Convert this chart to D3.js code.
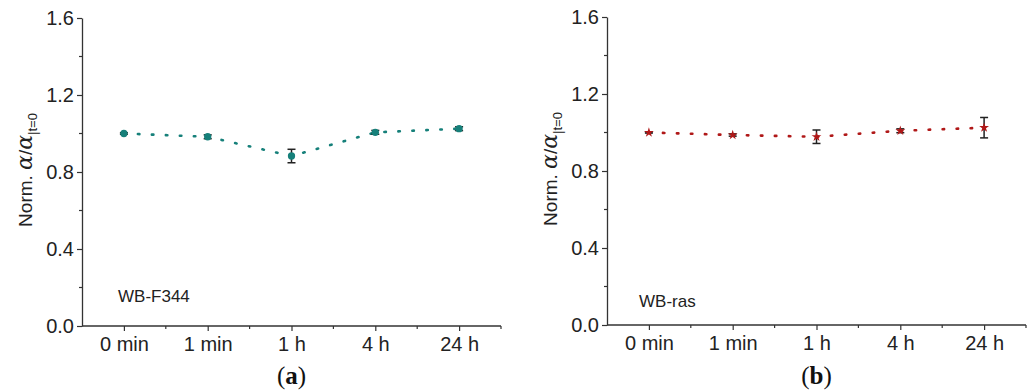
<!DOCTYPE html>
<html>
<head>
<meta charset="utf-8">
<script src="https://cdn.jsdelivr.net/npm/d3@7"></script>
<style>
  body { margin: 0; background: #fff; }
  text { font-family: "Liberation Sans", Arial, sans-serif; }
</style>
</head>
<body>
<div id="chart-area"></div>
<script>
// Data
var timeLabels = ["0 min", "1 min", "1 h", "4 h", "24 h"];
var yTicks = [0.0, 0.4, 0.8, 1.2, 1.6];
var yMinorTicks = [0.2, 0.6, 1.0, 1.4];

var f344Values = [1.000, 0.983, 0.883, 1.006, 1.025];
var f344Errors = [0.004, 0.010, 0.035, 0.010, 0.010];

var rasValues = [1.000, 0.987, 0.978, 1.009, 1.025];
var rasErrors = [0.003, 0.006, 0.035, 0.010, 0.053];

var svg = d3.select("#chart-area")
  .append("svg")
  .attr("width", 1031)
  .attr("height", 392);

function drawPanel(opt) {
  var g = svg.append("g");

  var x = d3.scalePoint().domain(timeLabels)
    .range([opt.left, opt.right]).padding(0.5);
  var y = d3.scaleLinear().domain([0, 1.6]).range([opt.bottom, opt.top]);
  var step = x.step();

  // minor ticks
  var xMinor = timeLabels.map(function(d) { return x(d) + step / 2; });
  g.selectAll(".xminor").data(xMinor).enter().append("line")
    .attr("x1", function(d) { return d; }).attr("x2", function(d) { return d; })
    .attr("y1", opt.bottom).attr("y2", opt.bottom + 3)
    .attr("stroke", "#333").attr("stroke-width", 1.2);
  g.selectAll(".yminor").data(yMinorTicks).enter().append("line")
    .attr("x1", opt.left - 3).attr("x2", opt.left)
    .attr("y1", function(d) { return y(d); }).attr("y2", function(d) { return y(d); })
    .attr("stroke", "#333").attr("stroke-width", 1.2);

  var xAxis = d3.axisBottom(x).tickSize(5).tickSizeOuter(0).tickPadding(6);
  var yAxis = d3.axisLeft(y).tickValues(yTicks).tickSize(5).tickSizeOuter(0)
    .tickPadding(3).tickFormat(d3.format(".1f"));

  var xg = g.append("g").attr("transform", "translate(0," + opt.bottom + ")").call(xAxis);
  var yg = g.append("g").attr("transform", "translate(" + opt.left + ",0)").call(yAxis);
  [xg, yg].forEach(function(a) {
    a.select(".domain").attr("stroke", "#333").attr("stroke-width", 1.3);
    a.selectAll(".tick line").attr("stroke", "#333").attr("stroke-width", 1.2);
    a.selectAll(".tick text").attr("fill", "#222").style("font-size", "20px")
      .style("font-family", "'Liberation Sans', Arial, sans-serif");
  });
  // extend x axis line to the y axis
  xg.select(".domain").attr("d", "M" + opt.left + ",0H" + opt.right);

  // dotted connecting line
  var line = d3.line()
    .x(function(d, i) { return x(timeLabels[i]); })
    .y(function(d) { return y(d); });
  g.append("path").datum(opt.values)
    .attr("d", line)
    .attr("fill", "none")
    .attr("stroke", opt.color)
    .attr("stroke-width", 2.6)
    .attr("stroke-linecap", "round")
    .attr("stroke-dasharray", "1.5,12.5");

  // error bars
  var eb = g.selectAll(".err").data(opt.values).enter().append("g");
  eb.append("line")
    .attr("x1", function(d, i) { return x(timeLabels[i]); })
    .attr("x2", function(d, i) { return x(timeLabels[i]); })
    .attr("y1", function(d, i) { return y(d - opt.errors[i]); })
    .attr("y2", function(d, i) { return y(d + opt.errors[i]); })
    .attr("stroke", "#222").attr("stroke-width", 1.5);
  [-1, 1].forEach(function(s) {
    eb.append("line")
      .attr("x1", function(d, i) { return x(timeLabels[i]) - 4; })
      .attr("x2", function(d, i) { return x(timeLabels[i]) + 4; })
      .attr("y1", function(d, i) { return y(d + s * opt.errors[i]); })
      .attr("y2", function(d, i) { return y(d + s * opt.errors[i]); })
      .attr("stroke", "#222").attr("stroke-width", 1.5);
  });

  // markers
  g.selectAll(".mk").data(opt.values).enter().append("path")
    .attr("transform", function(d, i) {
      return "translate(" + x(timeLabels[i]) + "," + y(d) + ")";
    })
    .attr("d", d3.symbol().type(opt.symbol).size(opt.symbolSize))
    .attr("fill", opt.color);

  // sample label
  g.append("text")
    .attr("x", opt.left + opt.nameDx).attr("y", y(opt.nameY))
    .attr("fill", "#222").style("font-size", "17px")
    .text(opt.name);

  // y label
  var yl = g.append("text")
    .attr("transform", "translate(" + opt.labelX + "," + (y(0.8) - 2) + ") rotate(-90)")
    .attr("text-anchor", "middle")
    .attr("fill", "#222").style("font-size", "19px");
  yl.append("tspan").text("Norm. ");
  yl.append("tspan").style("font-style", "italic").style("font-size", "22px")
    .style("font-family", "'DejaVu Serif', serif").text("α");
  yl.append("tspan").text("/");
  yl.append("tspan").style("font-style", "italic").style("font-size", "22px")
    .style("font-family", "'DejaVu Serif', serif").text("α");
  yl.append("tspan").attr("dy", 5).style("font-size", "13px").text("|t=0");

  // caption
  var cap = g.append("text")
    .attr("x", (x(timeLabels[0]) + x(timeLabels[4])) / 2).attr("y", 384)
    .attr("text-anchor", "middle")
    .style("font-family", "'Liberation Serif', 'Times New Roman', serif")
    .style("font-size", "25px").attr("fill", "#111");
  cap.append("tspan").text("(");
  cap.append("tspan").style("font-weight", "bold").text(opt.caption);
  cap.append("tspan").text(")");
}

drawPanel({
  left: 82, right: 501, top: 18, bottom: 326, labelX: 32,
  values: f344Values, errors: f344Errors, color: "#16807a",
  symbol: d3.symbolCircle, symbolSize: 42,
  name: "WB-F344", nameDx: 36, nameY: 0.125, caption: "a"
});
drawPanel({
  left: 607, right: 1026, top: 17, bottom: 325, labelX: 557,
  values: rasValues, errors: rasErrors, color: "#b01818",
  symbol: d3.symbolStar, symbolSize: 30,
  name: "WB-ras", nameDx: 32, nameY: 0.095, caption: "b"
});
</script>
</body>
</html>
